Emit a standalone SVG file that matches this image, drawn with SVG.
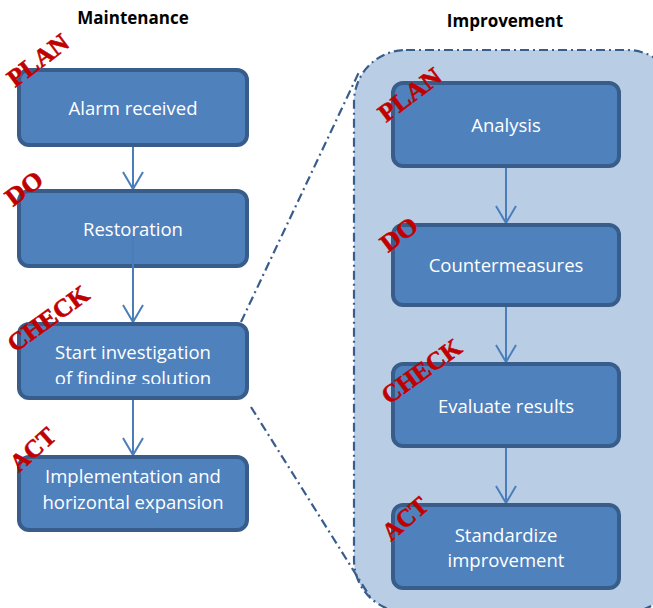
<svg xmlns="http://www.w3.org/2000/svg" width="653" height="608" viewBox="0 0 653 608">
<style>
.box{fill:#4F81BD;stroke:#385D8A;stroke-width:4}
.lbl{font-family:"Open Sans","Liberation Sans",sans-serif;font-size:18.5px;fill:#FFFFFF;text-anchor:middle}
.ttl{font-family:"Open Sans","Liberation Sans",sans-serif;font-size:17px;font-weight:bold;fill:#000000;text-anchor:middle}
.stamp{font-family:"Liberation Serif","Times New Roman",serif;font-size:25px;font-weight:bold;fill:#C00000;stroke:#C00000;stroke-width:0.6}
.conn{stroke:#4A7EBB;stroke-width:2;fill:none}
.dd{stroke:#385D8A;stroke-width:2.2;fill:none;stroke-dasharray:9 4 2 4}
.cont{fill:#B9CDE5;stroke:#385D8A;stroke-width:2.2;stroke-dasharray:9 4 2 4}
</style>
<defs>
<marker id="arr" viewBox="0 0 20 22" refX="18" refY="11" markerWidth="20" markerHeight="22" markerUnits="userSpaceOnUse" orient="auto">
<polyline points="1,1 18,11 1,21" fill="none" stroke="#4A7EBB" stroke-width="2"/>
</marker>
<clipPath id="clip3"><rect x="0" y="300" width="260" height="84"/></clipPath>
</defs>

<text class="ttl" x="133" y="24">Maintenance</text>
<text class="ttl" x="505" y="27">Improvement</text>

<g id="container">
<rect class="cont" x="354" y="50" width="325" height="562" rx="52"/>
</g>

<g id="connectors">
<path class="dd" d="M241,322 L360,70"/>
<path class="dd" d="M251,407 L372,600"/>
<path class="conn" d="M133,147 L133,189" marker-end="url(#arr)"/>
<path class="conn" d="M133,400 L133,455" marker-end="url(#arr)"/>
<path class="conn" d="M506,168 L506,223" marker-end="url(#arr)"/>
<path class="conn" d="M506,307 L506,362" marker-end="url(#arr)"/>
<path class="conn" d="M506,448 L506,503" marker-end="url(#arr)"/>
</g>

<g id="m1">
<rect class="box" x="19" y="70" width="228" height="75" rx="10"/>
<text class="lbl" x="133" y="115">Alarm received</text>
<text class="stamp" transform="translate(15,88) rotate(-37)" textLength="70" lengthAdjust="spacingAndGlyphs">PLAN</text>
</g>
<g id="m2">
<rect class="box" x="19" y="191" width="228" height="75" rx="10"/>
<text class="lbl" x="133" y="236">Restoration</text>
<text class="stamp" transform="translate(13,207) rotate(-37)" textLength="40" lengthAdjust="spacingAndGlyphs">DO</text>
</g>
<path id="c2" class="conn" d="M133,236 L133,322" marker-end="url(#arr)"/>
<g id="m3">
<rect class="box" x="19" y="324" width="228" height="74" rx="10"/>
<g clip-path="url(#clip3)">
<text class="lbl" x="133" y="359">Start investigation</text>
<text class="lbl" x="133" y="385">of finding solution</text>
</g>
<text class="stamp" transform="translate(15,353) rotate(-36)" textLength="94" lengthAdjust="spacingAndGlyphs">CHECK</text>
</g>
<g id="m4">
<rect class="box" x="19" y="457" width="228" height="73" rx="10"/>
<text class="lbl" x="133" y="483">Implementation and</text>
<text class="lbl" x="133" y="509">horizontal expansion</text>
<text class="stamp" transform="translate(19,473) rotate(-42)" textLength="52" lengthAdjust="spacingAndGlyphs">ACT</text>
</g>

<g id="i1">
<rect class="box" x="393" y="83" width="226" height="83" rx="10"/>
<text class="lbl" x="506" y="132">Analysis</text>
<text class="stamp" transform="translate(386,123) rotate(-37)" textLength="72" lengthAdjust="spacingAndGlyphs">PLAN</text>
</g>
<g id="i2">
<rect class="box" x="393" y="225" width="226" height="80" rx="10"/>
<text class="lbl" x="506" y="272">Countermeasures</text>
<text class="stamp" transform="translate(388,253) rotate(-37)" textLength="40" lengthAdjust="spacingAndGlyphs">DO</text>
</g>
<g id="i3">
<rect class="box" x="393" y="364" width="226" height="82" rx="10"/>
<text class="lbl" x="506" y="413">Evaluate results</text>
<text class="stamp" transform="translate(389,405) rotate(-36)" textLength="92" lengthAdjust="spacingAndGlyphs">CHECK</text>
</g>
<g id="i4">
<rect class="box" x="393" y="505" width="226" height="83" rx="10"/>
<text class="lbl" x="506" y="542">Standardize</text>
<text class="lbl" x="506" y="567">improvement</text>
<text class="stamp" transform="translate(391,542) rotate(-41)" textLength="52" lengthAdjust="spacingAndGlyphs">ACT</text>
</g>
</svg>
